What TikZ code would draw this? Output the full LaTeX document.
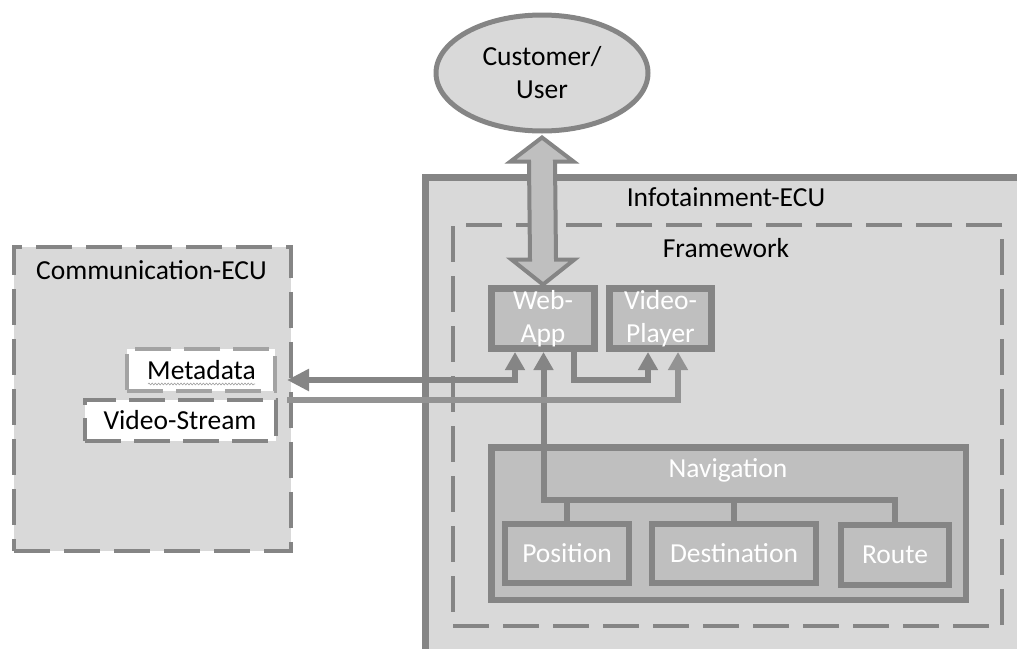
\documentclass[tikz,border=0pt]{standalone}
\usepackage{fontspec}
\setmainfont{Carlito}
\usetikzlibrary{arrows.meta,shapes.geometric,decorations.pathmorphing,calc}

\definecolor{edgegray}{HTML}{858585}
\definecolor{streamgray}{HTML}{939393}
\definecolor{metagray}{HTML}{A3A3A3}
\definecolor{panelfill}{HTML}{D9D9D9}
\definecolor{boxfill}{HTML}{BFBFBF}

\tikzset{
  every node/.style={font=\fontsize{27.5pt}{33pt}\selectfont, inner sep=0pt},
  ecubox/.style={draw=edgegray, fill=panelfill, line width=6.5pt, rectangle},
  fwbox/.style={draw=edgegray, line width=3.5pt, rectangle, dash pattern=on 36pt off 14pt},
  commbox/.style={draw=edgegray, fill=panelfill, line width=4pt, rectangle, dash pattern=on 36pt off 14pt},
  databox/.style={fill=white, line width=4pt, rectangle, dash pattern=on 36pt off 13pt},
  swbox/.style={draw=edgegray, fill=boxfill, line width=7pt, rectangle, text=white, align=center},
  navbox/.style={draw=edgegray, fill=boxfill, line width=6.5pt, rectangle},
  subbox/.style={draw=edgegray, fill=boxfill, line width=6pt, rectangle, text=white},
  conn/.style={draw=edgegray, line width=6pt, line join=miter},
  tipup/.style={-{Triangle[length=18pt,width=19pt]}},
  wavy/.style={decorate, decoration={snake, amplitude=0.9pt, segment length=3.2pt},
               draw=gray!75, line width=0.6pt}
}

\begin{document}
\begin{tikzpicture}[x=1pt, y=-1pt]
\useasboundingbox (0,0) rectangle (1017,648);
\clip (0,0) rectangle (1017,648);

% containers
\node[commbox, minimum width=277pt, minimum height=304pt] (comm) at (152.5,399) {};
\node (commlabel) at (151.5,270) {Communication-ECU};

\node[ecubox, minimum width=600pt, minimum height=477.5pt] (info) at (725.25,416.25) {};
\node (infolabel) at (726,197) {Infotainment-ECU};

\node[fwbox, minimum width=549pt, minimum height=401pt] (fw) at (727.5,425.5) {};
\node (fwlabel) at (726,248) {Framework};

% data boxes of the communication ECU
\node[databox, draw=metagray, minimum width=148pt, minimum height=42pt] (meta) at (201,370) {};
\node (metatext) at (201.5,370) {Metadata};
\draw[wavy] (148,384) -- (255,384);
\node[databox, draw=edgegray, minimum width=191pt, minimum height=41pt] (stream) at (180.5,420.5) {};
\node (streamtext) at (180,420) {Video-Stream};

% customer
\node[ellipse, draw=edgegray, fill=panelfill, line width=5pt,
      minimum width=212pt, minimum height=116pt, align=center] (user) at (542,73) {Customer/\\User};

% software components
\node[swbox, minimum width=103pt, minimum height=60pt] (webapp) at (543,318.5) {Web-\\App};
\node[swbox, minimum width=102pt, minimum height=60pt] (player) at (660.5,318.5) {Video-\\Player};

% navigation
\node[navbox, minimum width=474.5pt, minimum height=152.5pt] (nav) at (728.5,523.5) {};
\node[text=white] (navlabel) at (728,470) {Navigation};
\node[subbox, minimum width=124pt, minimum height=59pt] (position) at (567,553.5) {Position};
\node[subbox, minimum width=164pt, minimum height=59pt] (destination) at (734,553.5) {Destination};
\node[subbox, minimum width=108pt, minimum height=60pt] (route) at (895,555) {Route};

% navigation bus up to the web app
\coordinate (bus) at (543.5,500);
\draw[conn, {Triangle[length=18pt,width=19pt]}-] (webapp.south -| bus) -- (bus) -- (bus -| route.north) -- (route.north);
\draw[conn] (position.north) -- (position.north |- bus);
\draw[conn] (destination.north) -- (destination.north |- bus);

% web app to video player
\draw[conn, tipup] ([xshift=31pt]webapp.south) -- ++(0,28) -| ([xshift=-12.5pt]player.south);

% metadata exchange
\coordinate (metain) at (287,380);
\draw[conn, {Triangle[length=18pt,width=19pt]}-{Triangle[length=22pt,width=21pt]}]
  ([xshift=-28pt]webapp.south) |- (metain);

% video stream into the player
\coordinate (streamout) at (287,399.5);
\draw[conn, draw=streamgray, tipup] (streamout) -| ([xshift=17.5pt]player.south);

% user interaction arrow
\coordinate (ua) at ([yshift=-4pt]user.south);
\coordinate (wa) at ([yshift=0.5pt]webapp.north);
\draw[draw=edgegray, fill=boxfill, line width=4pt, line join=miter]
  (ua) -- ($(ua)+(31.5,24)$) -- ($(ua)+(13,24)$) -- ($(wa)+(13,-25)$) -- ($(wa)+(31.5,-25)$)
  -- (wa) -- ($(wa)+(-31.5,-25)$) -- ($(wa)+(-13,-25)$) -- ($(ua)+(-13,24)$) -- ($(ua)+(-31.5,24)$) -- cycle;
\end{tikzpicture}
\end{document}
